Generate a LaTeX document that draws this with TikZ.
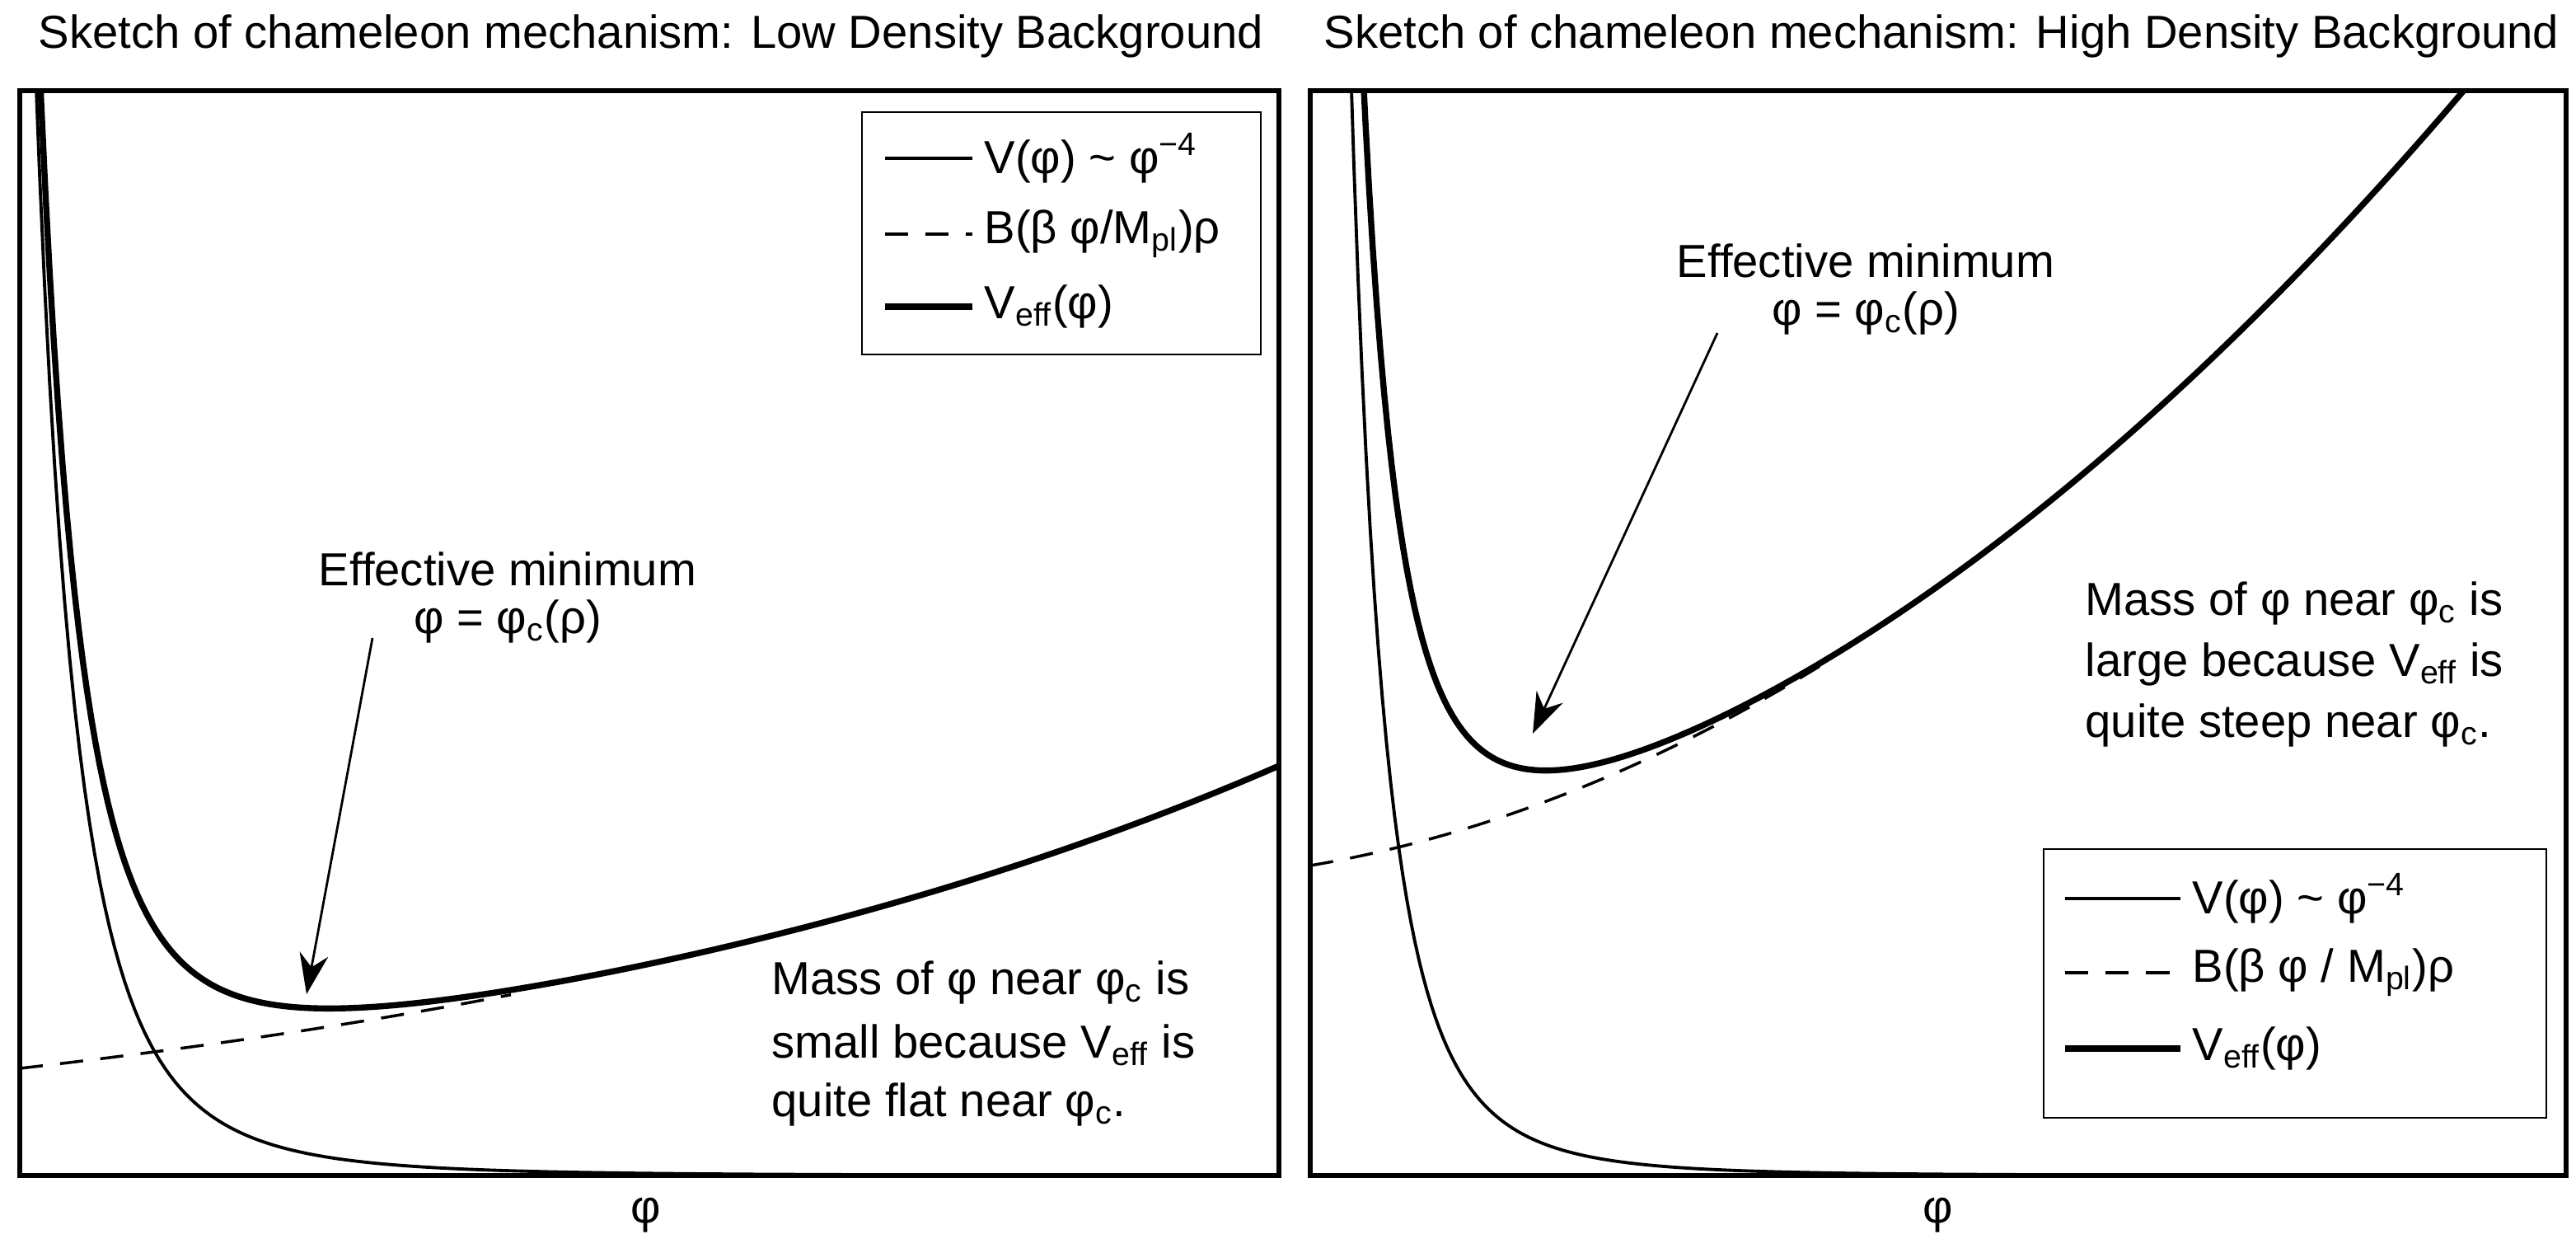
\documentclass[tikz,border=0pt]{standalone}
\usepackage{fontspec}
\setmainfont{Liberation Sans}
\usetikzlibrary{arrows.meta}
\newcommand{\subc}{\textsubscript{c}}
\begin{document}
\begin{tikzpicture}[x=0.02cm,y=-0.02cm,
  txt/.style={font=\fontsize{16}{19}\selectfont,inner sep=0pt},
  frame/.style={line width=1.6pt},
  thin/.style={line width=1.1pt},
  thick/.style={line width=2.1pt},
  dsh/.style={line width=1pt,dash pattern=on 8pt off 6pt},
  arr/.style={line width=0.8pt,-{Stealth[length=14pt,width=10pt]}}]
\useasboundingbox (0,0) rectangle (1563,760);
% titles
\node[txt] (t1) at (395,22) {Sketch of chameleon mechanism: Low Density Background};
\node[txt] (t2) at (1178,22) {Sketch of chameleon mechanism: High Density Background};
% ---- left panel
\begin{scope}
\clip (12,55) rectangle (776,713);
\draw[thin] plot[domain=21:776,samples=250] (\x,{713-658*(99.7/(\x-12+89.7))^4});
\draw[dsh] plot[domain=12:310,samples=60] (\x,{713-65*exp(0.00175*(\x-12))});
\draw[thick] plot[domain=20:776,samples=300] (\x,{713-658*(99.7/(\x-12+89.7))^4-65*exp(0.00175*(\x-12))});
\end{scope}
\draw[frame] (12,55) rectangle (776,713);
\draw[thin,line width=0.8pt] (523,68) rectangle (765,215);
\draw[thin] (537,96) -- (590,96);
\draw[dsh] (537,142) -- (590,142);
\draw[thick] (537,186) -- (590,186);
\node[txt,anchor=west] (l1) at (597,96) {V(φ) \textasciitilde{} φ\textsuperscript{−4}};
\node[txt,anchor=west] (l2) at (597,142) {B(β φ/M\textsubscript{pl})ρ};
\node[txt,anchor=west] (l3) at (597,186) {V\textsubscript{eff}(φ)};
\node[txt] (e1) at (308,345) {Effective minimum};
\node[txt] (e2) at (308,377) {φ = φ\subc(ρ)};
\coordinate (a1) at (226,387);
\coordinate (m1) at (186,603);
\draw[arr] (a1) -- (m1);
\node[txt,anchor=west] (s1) at (468,596) {Mass of φ near φ\subc{} is};
\node[txt,anchor=west] (s2) at (468,634) {small because V\textsubscript{eff} is};
\node[txt,anchor=west] (s3) at (468,670) {quite flat near φ\subc.};
\node[txt] (x1) at (392,737) {φ};
% ---- right panel
\begin{scope}
\clip (795,55) rectangle (1557,713);
\draw[thin] plot[domain=819:1557,samples=300] (\x,{713-658*(82.3/(\x-795+57.3))^4});
\draw[dsh] plot[domain=795:1110,samples=60] (\x,{713-188-0.1696*(\x-795)-0.000722*(\x-795)*(\x-795)});
\draw[thick] plot[domain=817:1500,samples=300] (\x,{713-658*(82.3/(\x-795+57.3))^4-188-0.1696*(\x-795)-0.000722*(\x-795)*(\x-795)});
\end{scope}
\draw[frame] (795,55) rectangle (1557,713);
\draw[thin,line width=0.8pt] (1240,515) rectangle (1545,678);
\draw[thin] (1253,545) -- (1323,545);
\draw[dsh] (1253,590) -- (1323,590);
\draw[thick] (1253,636) -- (1323,636);
\node[txt,anchor=west] (r1) at (1330,545) {V(φ) \textasciitilde{} φ\textsuperscript{−4}};
\node[txt,anchor=west] (r2) at (1330,590) {B(β φ / M\textsubscript{pl})ρ};
\node[txt,anchor=west] (r3) at (1330,636) {V\textsubscript{eff}(φ)};
\node[txt] (e3) at (1132,158) {Effective minimum};
\node[txt] (e4) at (1132,190) {φ = φ\subc(ρ)};
\coordinate (a2) at (1042,202);
\coordinate (m2) at (930,445);
\draw[arr] (a2) -- (m2);
\node[txt,anchor=west] (s4) at (1265,366) {Mass of φ near φ\subc{} is};
\node[txt,anchor=west] (s5) at (1265,403) {large because V\textsubscript{eff} is};
\node[txt,anchor=west] (s6) at (1265,440) {quite steep near φ\subc.};
\node[txt] (x2) at (1176,737) {φ};
\end{tikzpicture}
\end{document}
